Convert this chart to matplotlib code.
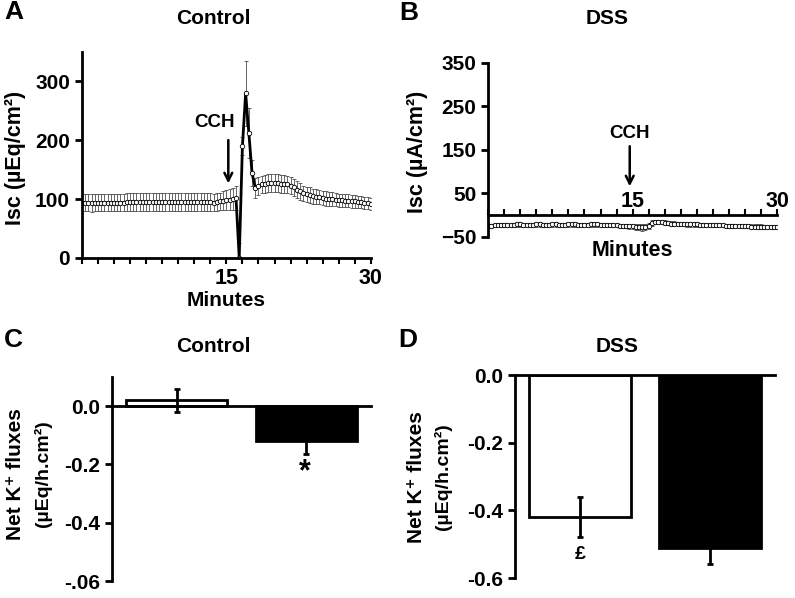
import matplotlib
matplotlib.use('Agg')
import matplotlib.pyplot as plt
import numpy as np
from matplotlib.ticker import MultipleLocator

plt.rcParams['font.family'] = ['Liberation Sans', 'DejaVu Sans']
plt.rcParams['font.weight'] = 'bold'

# Isc time course, one sample every 20 s (91 samples over 30 min)
isc_control = [94, 94, 94, 93, 94, 94, 94, 94, 94, 94,
               94, 94, 94, 94, 95, 95, 95, 95, 95, 95,
               95, 95, 95, 95, 95, 95, 95, 95, 95, 95,
               95, 95, 95, 95, 95, 95, 95, 95, 95, 95,
               95, 94, 95, 96, 97, 98, 99, 100, 102,
               0, 190, 280, 212, 144, 119, 122, 125, 126, 127,
               127, 127, 127, 126, 126, 125, 123, 120, 116, 113,
               110, 108, 107, 105, 104, 103, 102, 101, 100, 100,
               99, 98, 98, 97, 97, 96, 96, 95, 95, 94, 93, 92]
isc_control_err = [15, 15, 15, 15, 15, 15, 15, 15, 15, 15,
                   15, 15, 15, 15, 15, 15, 15, 15, 15, 15,
                   15, 15, 15, 15, 15, 15, 15, 15, 15, 15,
                   15, 15, 15, 15, 15, 15, 15, 15, 15, 15,
                   15, 15, 15, 15, 16, 17, 18, 19, 20,
                   25, 15, 55, 42, 22, 17, 15, 15, 15, 15,
                   15, 15, 15, 15, 15, 15, 14, 14, 14, 14,
                   13, 13, 13, 13, 13, 12, 12, 12, 12, 12,
                   11, 11, 11, 11, 11, 11, 11, 10, 10, 10, 10, 10]

isc_dss = [-24, -24, -23, -23, -22, -22, -23, -23, -22, -21,
           -21, -22, -22, -23, -22, -21, -21, -22, -22, -22,
           -21, -21, -22, -22, -22, -21, -21, -21, -22, -22,
           -22, -22, -21, -21, -21, -22, -22, -22, -23, -23,
           -23, -24, -24, -24, -25, -25, -26, -27,
           -28, -27, -24, -18, -15, -15, -16, -17,
           -18, -19, -19, -20, -20, -20, -21, -21, -21, -21,
           -22, -22, -22, -22, -23, -23, -23, -23, -24, -24,
           -24, -24, -25, -25, -25, -25, -26, -26, -26, -26,
           -27, -27, -27, -27, -27]
isc_dss_err = [5, 5, 5, 5, 5, 5, 5, 5, 5, 5,
               5, 5, 5, 5, 5, 5, 5, 5, 5, 5,
               5, 5, 5, 5, 5, 5, 5, 5, 5, 5,
               5, 5, 5, 5, 5, 5, 5, 5, 5, 5,
               5, 5, 5, 5, 6, 6, 7, 8,
               8, 8, 7, 6, 5, 5, 5, 5,
               5, 5, 5, 5, 5, 5, 5, 5, 5, 5,
               5, 5, 5, 5, 5, 5, 5, 5, 5, 5,
               5, 5, 5, 5, 5, 5, 5, 5, 5, 5,
               5, 5, 5, 5, 5]

minutes = np.arange(len(isc_control)) / 3.0

# net K+ fluxes (before / after CCH)
flux_groups = [0.5, 1.5]
flux_control = [0.02, -0.12]
flux_control_err = [0.04, 0.045]
flux_dss = [-0.42, -0.51]
flux_dss_err = [0.06, 0.05]
bar_colors = ['white', 'black']

fig = plt.figure(figsize=(7.95, 5.98), dpi=100)


def style_axis(ax):
    ax.spines['top'].set_visible(False)
    ax.spines['right'].set_visible(False)
    ax.spines['left'].set_linewidth(2)
    ax.spines['bottom'].set_linewidth(2)
    ax.tick_params(axis='y', direction='out', length=5, width=2, labelsize=15)


def time_axis(ax):
    ax.set_xlim(0, 30)
    ax.set_xticks([15, 30])
    ax.set_xticklabels(['15', '30'], fontsize=15.5)
    ax.xaxis.set_minor_locator(MultipleLocator(5 / 3))


# A: control Isc
axA = fig.add_axes([0.103, 0.5686, 0.3635, 0.3445])
style_axis(axA)
axA.errorbar(minutes, isc_control, yerr=isc_control_err, fmt='none',
             ecolor='0.3', elinewidth=0.6, capsize=1.5, capthick=0.6)
axA.plot(minutes, isc_control, color='black', lw=2, marker='o', ms=3.2,
         mfc='white', mec='black', mew=0.6)
axA.set_ylim(0, 350)
axA.set_yticks([0, 100, 200, 300])
time_axis(axA)
axA.tick_params(axis='x', which='both', direction='out', length=4, width=1.5, pad=3)
axA.annotate('', xy=(15.2, 122), xytext=(15.2, 205),
             arrowprops=dict(arrowstyle='->', lw=1.8, color='black', mutation_scale=14))
axA.text(13.8, 230, 'CCH', ha='center', va='center', fontsize=13.5)
axA.text(0.5, -0.158, 'Minutes', transform=axA.transAxes, ha='center', va='top', fontsize=15)

# B: DSS Isc
axB = fig.add_axes([0.614, 0.6037, 0.3635, 0.291])
style_axis(axB)
axB.spines['bottom'].set_position(('data', 0))
axB.errorbar(minutes, isc_dss, yerr=isc_dss_err, fmt='none',
             ecolor='0.3', elinewidth=0.6, capsize=1.5, capthick=0.6)
axB.plot(minutes, isc_dss, color='black', lw=2, marker='o', ms=3.2,
         mfc='white', mec='black', mew=0.6)
axB.set_ylim(-50, 350)
axB.set_yticks([-50, 50, 150, 250, 350])
time_axis(axB)
axB.tick_params(axis='x', which='both', direction='in', length=4, width=1.5, pad=-2)
for lbl in axB.get_xticklabels():
    lbl.set_va('bottom')
axB.annotate('', xy=(14.7, 60), xytext=(14.7, 165),
             arrowprops=dict(arrowstyle='->', lw=1.8, color='black', mutation_scale=14))
axB.text(14.7, 188, 'CCH', ha='center', va='center', fontsize=13.5)
axB.text(0.5, -0.02, 'Minutes', transform=axB.transAxes, ha='center', va='top', fontsize=15.5)


def flux_axis(ax, values, errs, top):
    style_axis(ax)
    ax.spines['bottom'].set_position(('data', 0))
    ax.bar(flux_groups, values, width=0.78, color=bar_colors, edgecolor='black', lw=2)
    ax.errorbar(flux_groups, values, yerr=errs, fmt='none', ecolor='black',
                elinewidth=2, capsize=2.5, capthick=2)
    ax.set_xlim(0, 2)
    ax.set_ylim(-0.6, top)
    ax.set_xticks([])
    ax.set_yticks([0, -0.2, -0.4, -0.6])


# C: control fluxes
axC = fig.add_axes([0.1409, 0.0284, 0.3258, 0.341])
flux_axis(axC, flux_control, flux_control_err, 0.1)
axC.set_yticklabels(['0.0', '-0.2', '-0.4', '-.06'])
axC.text(1.49, -0.225, '*', ha='center', va='center', fontsize=22)

# D: DSS fluxes
axD = fig.add_axes([0.6478, 0.0334, 0.327, 0.3395])
flux_axis(axD, flux_dss, flux_dss_err, 0.0)
axD.set_yticklabels(['0.0', '-0.2', '-0.4', '-0.6'])
axD.text(0.5, -0.53, '£', ha='center', va='center', fontsize=14)

# titles, panel letters and y labels
W, H = 795, 598
for x, y, s in [(213, 18, 'Control'), (607, 18, 'DSS'), (213, 347, 'Control'), (617, 347, 'DSS')]:
    fig.text(x / W, 1 - y / H, s, ha='center', va='center', fontsize=15)
for x, y, s in [(14, 12, 'A'), (409, 13, 'B'), (13, 340, 'C'), (408, 340, 'D')]:
    fig.text(x / W, 1 - y / H, s, ha='center', va='center', fontsize=19)
fig.text(16 / W, 1 - 158 / H, 'Isc (µEq/cm²)', rotation=90, ha='center', va='center', fontsize=15.5)
fig.text(418 / W, 1 - 152 / H, 'Isc (µA/cm²)', rotation=90, ha='center', va='center', fontsize=15.5)
for x0, yc in [(0, 474), (400, 477)]:
    fig.text((x0 + 16) / W, 1 - yc / H, 'Net K⁺ fluxes', rotation=90, ha='center', va='center', fontsize=15)
    fig.text((x0 + 43) / W, 1 - yc / H, '(µEq/h.cm²)', rotation=90, ha='center', va='center', fontsize=14)

fig.savefig('out.png', dpi=100)
